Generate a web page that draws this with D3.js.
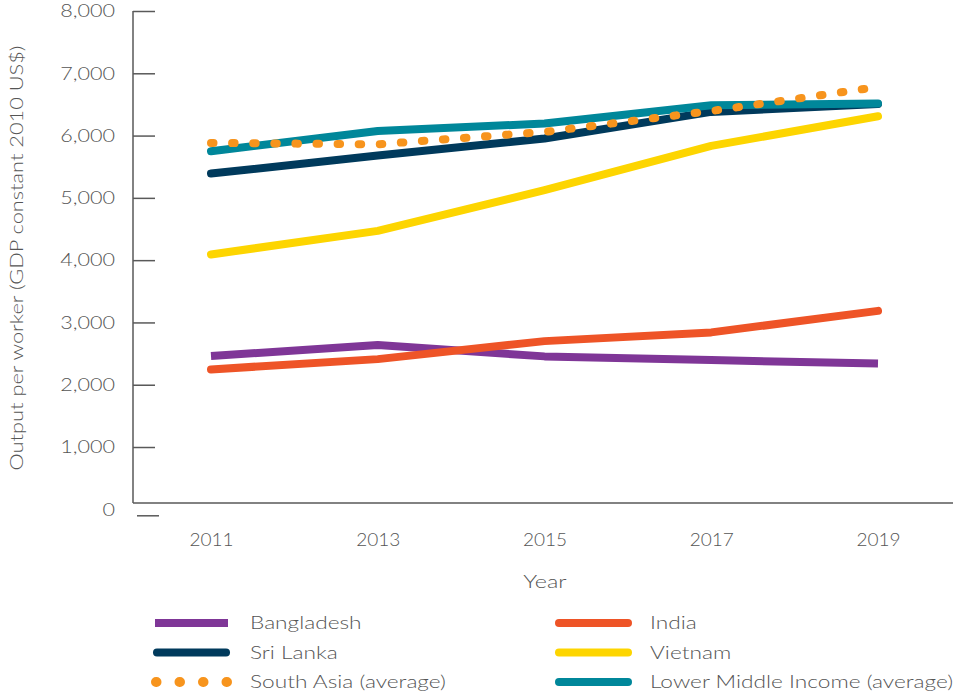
<!DOCTYPE html>
<html>
<head>
<meta charset="utf-8">
<script src="https://cdn.jsdelivr.net/npm/d3@7"></script>
<style>
  body { margin: 0; background: #fff; }
  svg text { font-family: "Lato", "Open Sans", sans-serif; font-weight: 300; fill: #555; }
</style>
</head>
<body>
<div id="wrapper"></div>
<script>
const years = [2011, 2013, 2015, 2017, 2019];
const yTicks = [0, 1000, 2000, 3000, 4000, 5000, 6000, 7000, 8000];

const bangladesh = [2460, 2636, 2455, 2395, 2342];
const india = [2246, 2411, 2700, 2840, 3186];
const sriLanka = [5390, 5680, 5952, 6380, 6505];
const vietnam = [4091, 4470, 5123, 5834, 6310];
const southAsia = [5882, 5860, 6058, 6395, 6780];
const lowerMiddle = [5748, 6074, 6193, 6487, 6514];

// draw order: later ones sit on top
const series = [
    { name: "Bangladesh", values: bangladesh, color: "#7f3697", cap: "butt" },
    { name: "India", values: india, color: "#ee5427", cap: "round" },
    { name: "Sri Lanka", values: sriLanka, color: "#003a5c", cap: "round" },
    { name: "Vietnam", values: vietnam, color: "#fdd500", cap: "round" },
    { name: "Lower Middle Income (average)", values: lowerMiddle, color: "#00879a", cap: "round" },
    { name: "South Asia (average)", values: southAsia, color: "#f7941d", cap: "round", dotted: true },
];
const legendOrder = ["Bangladesh", "India", "Sri Lanka", "Vietnam", "South Asia (average)", "Lower Middle Income (average)"];

const width = 956, height = 696;
const axisX = 133, plotBottom = 503, plotRight = 953;

// the original face is wider than Lato, so stretch text a bit
function widen(selection, factor) {
    selection.each(function () {
        const w = this.getComputedTextLength();
        d3.select(this)
            .attr("textLength", w * factor)
            .attr("lengthAdjust", "spacingAndGlyphs");
    });
}

const svg = d3.select("#wrapper")
    .append("svg")
        .attr("width", width)
        .attr("height", height);

const xScale = d3.scaleLinear()
    .domain([2011, 2019])
    .range([211, 878]);

const yScale = d3.scaleLinear()
    .domain([0, 8000])
    .range([509.3, 11]);

// frame lines
svg.append("line")
    .attr("x1", axisX).attr("x2", axisX)
    .attr("y1", yScale(8000)).attr("y2", plotBottom)
    .attr("stroke", "#595959").attr("stroke-width", 1.5);
svg.append("line")
    .attr("x1", axisX).attr("x2", plotRight)
    .attr("y1", plotBottom).attr("y2", plotBottom)
    .attr("stroke", "#595959").attr("stroke-width", 1.5);

const yAxisGenerator = d3.axisLeft(yScale)
    .tickValues(yTicks)
    .tickSizeInner(-22)
    .tickSizeOuter(0)
    .tickPadding(18)
    .tickFormat(d3.format(","));

const yAxis = svg.append("g")
    .attr("transform", `translate(${axisX},0)`)
    .call(yAxisGenerator);
yAxis.select(".domain").remove();
yAxis.selectAll(".tick line").attr("stroke", "#595959").attr("stroke-width", 1.5);
yAxis.selectAll(".tick text")
    .style("font-size", "18px")
    .attr("fill", "#555")
    .call(widen, 1.2);
// the zero tick sits a little offset below the frame
yAxis.selectAll(".tick").filter(d => d === 0).select("line")
    .attr("transform", "translate(4,6)");

const xAxisGenerator = d3.axisBottom(xScale)
    .tickValues(years)
    .tickSize(0)
    .tickPadding(0)
    .tickFormat(d3.format("d"));

const xAxis = svg.append("g")
    .attr("transform", `translate(0,${plotBottom + 31})`)
    .call(xAxisGenerator);
xAxis.select(".domain").remove();
xAxis.selectAll(".tick text")
    .style("font-size", "17px")
    .attr("fill", "#555")
    .call(widen, 1.12);

svg.append("text")
    .attr("x", 545)
    .attr("y", 588)
    .attr("text-anchor", "middle")
    .style("font-size", "18px")
    .text("Year")
    .call(widen, 1.3);

svg.append("text")
    .attr("transform", "translate(23,258) rotate(-90)")
    .attr("text-anchor", "middle")
    .style("font-size", "18px")
    .text("Output per worker (GDP constant 2010 US$)")
    .call(widen, 1.21);

const lineGenerator = d3.line()
    .x((d, i) => xScale(years[i]))
    .y(d => yScale(d));

svg.append("g")
    .selectAll("path")
    .data(series)
    .join("path")
        .attr("d", s => lineGenerator(s.values))
        .attr("fill", "none")
        .attr("stroke", s => s.color)
        .attr("stroke-width", 8)
        .attr("stroke-linecap", s => s.cap)
        .attr("stroke-linejoin", "round")
        .attr("stroke-dasharray", s => s.dotted ? "2.5 18.6" : null);

// legend
const legend = svg.append("g");
const legendItems = legend.selectAll("g")
    .data(legendOrder.map(n => series.find(s => s.name === n)))
    .join("g")
        .attr("transform", (s, i) => `translate(${i % 2 === 0 ? 155 : 557},${623 + Math.floor(i / 2) * 29.5})`);

legendItems.append("line")
    .attr("x1", s => s.dotted ? 1 : s.cap === "round" ? 2 : 0)
    .attr("x2", s => s.dotted ? 73 : s.cap === "round" ? 71 : 73)
    .attr("y1", 0).attr("y2", 0)
    .attr("stroke", s => s.color)
    .attr("stroke-width", s => s.dotted ? 10 : 8)
    .attr("stroke-linecap", s => s.cap)
    .attr("stroke-dasharray", s => s.dotted ? "0.5 23" : null);

legendItems.append("text")
    .attr("x", (s, i) => i % 2 === 0 ? 95 : 93)
    .attr("y", 0)
    .attr("dy", "0.35em")
    .style("font-size", "18px")
    .text(s => s.name)
    .call(widen, 1.26);
</script>
</body>
</html>
